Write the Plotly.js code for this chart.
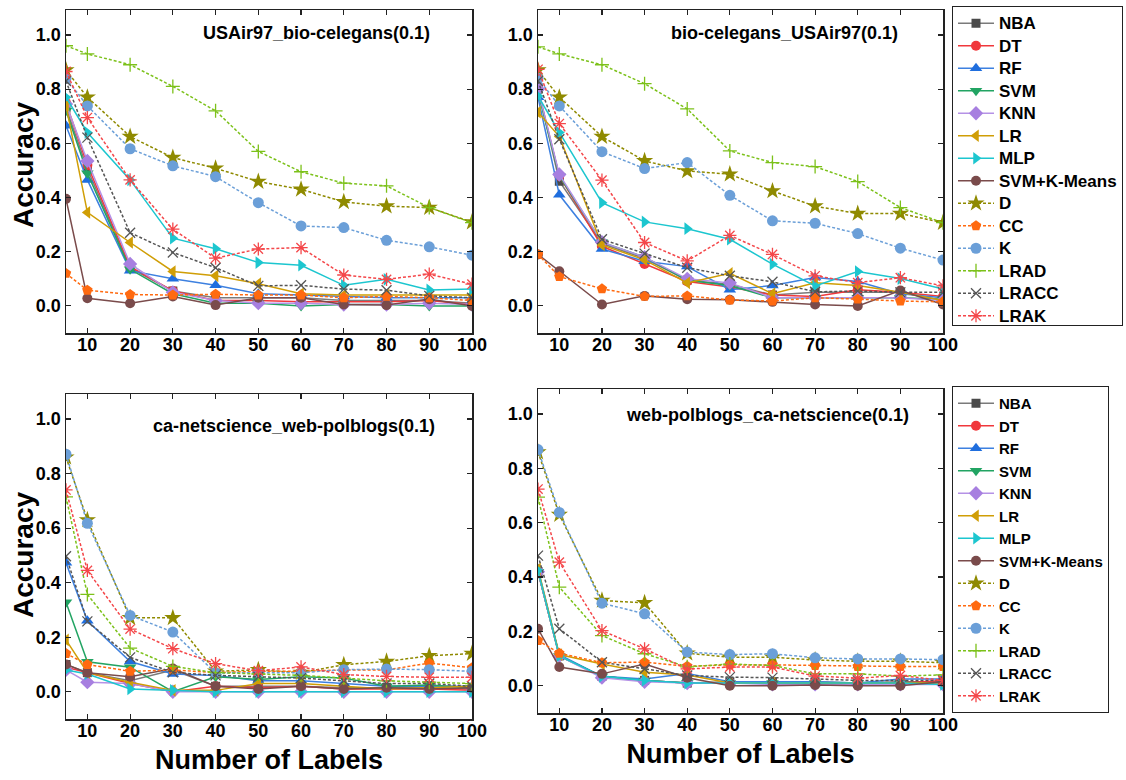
<!DOCTYPE html>
<html>
<head>
<meta charset="utf-8">
<script src="https://cdn.plot.ly/plotly-3.0.1.min.js"></script>
<style>html,body{margin:0;padding:0;background:#fff;}#chart{width:1126px;height:780px;}</style>
</head>
<body>
<div id="chart"></div>
<script>
// ---------- data ----------
const labels = [5, 10, 20, 30, 40, 50, 60, 70, 80, 90, 100];
const methods = ['NBA','DT','RF','SVM','KNN','LR','MLP','SVM+K-Means','D','CC','K','LRAD','LRACC','LRAK'];
const xTicks = [10, 20, 30, 40, 50, 60, 70, 80, 90, 100];
const yTicks = [0.0, 0.2, 0.4, 0.6, 0.8, 1.0];
const panelTitles = ['USAir97_bio-celegans(0.1)', 'bio-celegans_USAir97(0.1)', 'ca-netscience_web-polblogs(0.1)', 'web-polblogs_ca-netscience(0.1)'];
const xTitle = 'Number of Labels';
const yTitle = 'Accuracy';

// Panel A: USAir97_bio-celegans(0.1)
const a_NBA   = [0.73, 0.505, 0.14, 0.055, 0.03, 0.03, 0.03, 0.02, 0.02, 0.02, 0.01];
const a_DT    = [0.75, 0.52, 0.145, 0.055, 0.02, 0.02, 0.015, 0.015, 0.015, 0.02, 0.005];
const a_RF    = [0.665, 0.465, 0.13, 0.10, 0.076, 0.045, 0.04, 0.035, 0.03, 0.03, 0.03];
const a_SVM   = [0.72, 0.49, 0.135, 0.045, 0.01, 0.01, 0.0, 0.005, 0.005, 0.0, 0.0];
const a_KNN   = [0.745, 0.535, 0.155, 0.05, 0.02, 0.01, 0.01, 0.005, 0.005, 0.01, 0.005];
const a_LR    = [0.74, 0.345, 0.234, 0.127, 0.111, 0.082, 0.045, 0.04, 0.04, 0.04, 0.04];
const a_MLP   = [0.77, 0.64, 0.465, 0.25, 0.211, 0.16, 0.15, 0.076, 0.098, 0.059, 0.062];
const a_SVMKM = [0.395, 0.028, 0.01, 0.035, 0.003, 0.03, 0.03, 0.005, 0.003, 0.025, 0.0];
const a_D     = [0.87, 0.77, 0.625, 0.547, 0.508, 0.459, 0.43, 0.384, 0.368, 0.363, 0.309];
const a_CC    = [0.12, 0.058, 0.042, 0.04, 0.043, 0.04, 0.04, 0.03, 0.035, 0.03, 0.02];
const a_K     = [0.84, 0.738, 0.58, 0.517, 0.477, 0.381, 0.295, 0.289, 0.242, 0.218, 0.187];
const a_LRAD  = [0.96, 0.93, 0.89, 0.81, 0.72, 0.57, 0.495, 0.453, 0.443, 0.363, 0.307];
const a_LRACC = [0.83, 0.621, 0.27, 0.197, 0.141, 0.074, 0.076, 0.062, 0.058, 0.037, 0.03];
const a_LRAK  = [0.865, 0.695, 0.465, 0.283, 0.176, 0.21, 0.215, 0.114, 0.098, 0.117, 0.08];

// Panel B: bio-celegans_USAir97(0.1)
const b_NBA   = [0.80, 0.46, 0.23, 0.175, 0.095, 0.08, 0.04, 0.05, 0.05, 0.05, 0.02];
const b_DT    = [0.80, 0.48, 0.22, 0.155, 0.09, 0.07, 0.04, 0.035, 0.06, 0.05, 0.035];
const b_RF    = [0.77, 0.41, 0.21, 0.165, 0.145, 0.06, 0.075, 0.105, 0.09, 0.045, 0.03];
const b_SVM   = [0.79, 0.48, 0.235, 0.18, 0.095, 0.075, 0.03, 0.03, 0.03, 0.03, 0.025];
const b_KNN   = [0.80, 0.485, 0.235, 0.18, 0.10, 0.085, 0.03, 0.03, 0.03, 0.03, 0.02];
const b_LR    = [0.715, 0.625, 0.225, 0.17, 0.085, 0.12, 0.045, 0.085, 0.075, 0.05, 0.02];
const b_MLP   = [0.775, 0.64, 0.381, 0.31, 0.285, 0.246, 0.154, 0.074, 0.127, 0.101, 0.062];
const b_SVMKM = [0.19, 0.128, 0.005, 0.037, 0.025, 0.023, 0.015, 0.005, 0.0, 0.057, 0.005];
const b_D     = [0.87, 0.77, 0.625, 0.535, 0.498, 0.486, 0.424, 0.368, 0.341, 0.341, 0.307];
const b_CC    = [0.19, 0.108, 0.063, 0.035, 0.037, 0.022, 0.018, 0.03, 0.025, 0.018, 0.015];
const b_K     = [0.84, 0.738, 0.569, 0.507, 0.529, 0.408, 0.314, 0.305, 0.267, 0.213, 0.169];
const b_LRAD  = [0.956, 0.93, 0.89, 0.82, 0.727, 0.572, 0.529, 0.514, 0.459, 0.363, 0.307];
const b_LRACC = [0.83, 0.615, 0.246, 0.193, 0.141, 0.111, 0.089, 0.052, 0.055, 0.05, 0.05];
const b_LRAK  = [0.873, 0.673, 0.464, 0.234, 0.166, 0.26, 0.19, 0.111, 0.086, 0.104, 0.074];

// Panel C: ca-netscience_web-polblogs(0.1)
const c_NBA   = [0.10, 0.07, 0.04, 0.08, 0.02, 0.02, 0.02, 0.015, 0.015, 0.015, 0.01];
const c_DT    = [0.09, 0.07, 0.03, 0.0, 0.02, 0.015, 0.02, 0.01, 0.01, 0.01, 0.005];
const c_RF    = [0.473, 0.26, 0.111, 0.065, 0.06, 0.04, 0.04, 0.03, 0.02, 0.02, 0.02];
const c_SVM   = [0.328, 0.11, 0.09, 0.0, 0.055, 0.045, 0.055, 0.05, 0.02, 0.025, 0.015];
const c_KNN   = [0.08, 0.035, 0.03, 0.0, 0.0, 0.0, 0.0, 0.0, 0.0, 0.0, 0.0];
const c_LR    = [0.19, 0.07, 0.035, 0.005, 0.005, 0.03, 0.03, 0.02, 0.01, 0.015, 0.02];
const c_MLP   = [0.08, 0.065, 0.01, 0.005, 0.0, 0.0, 0.0, 0.0, 0.0, 0.0, 0.0];
const c_SVMKM = [0.10, 0.07, 0.055, 0.085, 0.02, 0.01, 0.02, 0.01, 0.015, 0.01, 0.015];
const c_D     = [0.86, 0.63, 0.271, 0.271, 0.075, 0.08, 0.07, 0.099, 0.111, 0.132, 0.14];
const c_CC    = [0.14, 0.10, 0.075, 0.08, 0.07, 0.075, 0.075, 0.08, 0.08, 0.105, 0.088];
const c_K     = [0.871, 0.618, 0.28, 0.219, 0.069, 0.07, 0.07, 0.081, 0.083, 0.081, 0.075];
const c_LRAD  = [0.715, 0.357, 0.16, 0.093, 0.07, 0.065, 0.06, 0.05, 0.04, 0.035, 0.03];
const c_LRACC = [0.497, 0.258, 0.126, 0.071, 0.06, 0.055, 0.05, 0.04, 0.03, 0.03, 0.02];
const c_LRAK  = [0.74, 0.445, 0.23, 0.158, 0.103, 0.077, 0.091, 0.063, 0.056, 0.053, 0.053];

// Panel D: web-polblogs_ca-netscience(0.1)
const d_NBA   = [0.42, 0.11, 0.035, 0.02, 0.01, 0.015, 0.015, 0.015, 0.01, 0.015, 0.015];
const d_DT    = [0.42, 0.11, 0.035, 0.02, 0.01, 0.01, 0.01, 0.01, 0.01, 0.01, 0.02];
const d_RF    = [0.43, 0.115, 0.035, 0.025, 0.045, 0.015, 0.015, 0.015, 0.01, 0.025, 0.025];
const d_SVM   = [0.42, 0.11, 0.035, 0.02, 0.01, 0.01, 0.01, 0.01, 0.01, 0.01, 0.01];
const d_KNN   = [0.42, 0.11, 0.03, 0.015, 0.01, 0.01, 0.005, 0.005, 0.005, 0.005, 0.005];
const d_LR    = [0.43, 0.115, 0.08, 0.05, 0.04, 0.01, 0.01, 0.01, 0.01, 0.01, 0.01];
const d_MLP   = [0.424, 0.11, 0.035, 0.02, 0.01, 0.01, 0.01, 0.01, 0.01, 0.01, 0.005];
const d_SVMKM = [0.21, 0.069, 0.044, 0.08, 0.03, 0.0, 0.0, 0.003, 0.0, 0.0, 0.015];
const d_D     = [0.86, 0.63, 0.314, 0.305, 0.12, 0.105, 0.105, 0.095, 0.09, 0.09, 0.085];
const d_CC    = [0.167, 0.12, 0.085, 0.087, 0.072, 0.077, 0.077, 0.075, 0.071, 0.071, 0.071];
const d_K     = [0.869, 0.638, 0.304, 0.265, 0.124, 0.115, 0.118, 0.103, 0.099, 0.099, 0.096];
const d_LRAD  = [0.694, 0.363, 0.185, 0.118, 0.07, 0.08, 0.075, 0.044, 0.044, 0.036, 0.04];
const d_LRACC = [0.479, 0.21, 0.087, 0.062, 0.038, 0.032, 0.03, 0.025, 0.02, 0.02, 0.02];
const d_LRAK  = [0.724, 0.455, 0.203, 0.136, 0.062, 0.069, 0.069, 0.036, 0.028, 0.038, 0.02];

const panelData = [
  [a_NBA, a_DT, a_RF, a_SVM, a_KNN, a_LR, a_MLP, a_SVMKM, a_D, a_CC, a_K, a_LRAD, a_LRACC, a_LRAK],
  [b_NBA, b_DT, b_RF, b_SVM, b_KNN, b_LR, b_MLP, b_SVMKM, b_D, b_CC, b_K, b_LRAD, b_LRACC, b_LRAK],
  [c_NBA, c_DT, c_RF, c_SVM, c_KNN, c_LR, c_MLP, c_SVMKM, c_D, c_CC, c_K, c_LRAD, c_LRACC, c_LRAK],
  [d_NBA, d_DT, d_RF, d_SVM, d_KNN, d_LR, d_MLP, d_SVMKM, d_D, d_CC, d_K, d_LRAD, d_LRACC, d_LRAK]
];

// ---------- styles ----------
const styles = [
  {line:'#7a7a7a', mk:'#4a4a4a', sym:'square', dash:'solid', size:9},
  {line:'#f0383c', mk:'#f0383c', sym:'circle', dash:'solid', size:10},
  {line:'#3d80e0', mk:'#1f6ede', sym:'triangle-up', dash:'solid', size:11},
  {line:'#22a463', mk:'#22a463', sym:'triangle-down', dash:'solid', size:11},
  {line:'#b592e6', mk:'#a77fe0', sym:'diamond', dash:'solid', size:11},
  {line:'#d09e06', mk:'#d09e06', sym:'triangle-left', dash:'solid', size:11},
  {line:'#1cc6cf', mk:'#1cc6cf', sym:'triangle-right', dash:'solid', size:11},
  {line:'#7a4b4b', mk:'#7a4b4b', sym:'circle', dash:'solid', size:10},
  {line:'#8f8a00', mk:'#8f8a00', sym:'star', dash:'3px,2px', size:13},
  {line:'#ff6a10', mk:'#ff6a10', sym:'pentagon', dash:'3px,2px', size:11},
  {line:'#6b9fd8', mk:'#6b9fd8', sym:'circle', dash:'3px,2px', size:11},
  {line:'#7cc11a', mk:'#7cc11a', sym:'cross-thin-open', dash:'3px,2px', size:10},
  {line:'#555555', mk:'#555555', sym:'x-thin-open', dash:'3px,2px', size:10},
  {line:'#f4474a', mk:'#f4474a', sym:'asterisk-open', dash:'3px,2px', size:11}
];

const axisIds = [['x','y'],['x2','y2'],['x3','y3'],['x4','y4']];
const traces = [];
panelData.forEach((series, p) => {
  series.forEach((vals, i) => {
    const s = styles[i];
    const isOpen = s.sym.indexOf('open') >= 0;
    traces.push({
      type:'scatter', mode:'lines+markers',
      x: labels, y: vals, name: methods[i],
      xaxis: axisIds[p][0], yaxis: axisIds[p][1],
      line:{color:s.line, width:1.5, dash:s.dash},
      marker:{symbol:s.sym, size:s.size, color:s.mk,
              line: isOpen ? {color:s.mk, width:1.3} : {width:0}},
      showlegend: (p === 1 || p === 3),
      legend: p === 3 ? 'legend2' : 'legend'
    });
  });
});

const FONT = 'Liberation Sans, Arial, sans-serif';
function xa(domain, showTitle, anchor){
  return {
    domain: domain, range:[5,100], tickvals: xTicks, ticktext: xTicks.map(String), anchor: anchor,
    showline:true, linecolor:'#222', linewidth:1.5, mirror:'ticks',
    ticks:'inside', ticklen:5, tickwidth:1.2, tickcolor:'#222', ticklabelstandoff:-5,
    showgrid:false, zeroline:false,
    tickfont:{family:FONT, size:18, color:'#000', weight:'bold'},
    title: showTitle ? {text:xTitle, font:{family:FONT, size:27, color:'#000', weight:'bold'}, standoff:10} : {text:''}
  };
}
function ya(domain, anchor){
  return {
    domain: domain, range:[-0.1, 1.092], tickvals: yTicks, tickformat:'.1f', anchor: anchor,
    showline:true, linecolor:'#222', linewidth:1.5, mirror:'ticks',
    ticks:'inside', ticklen:5, tickwidth:1.2, tickcolor:'#222',
    showgrid:false, zeroline:false,
    tickfont:{family:FONT, size:18, color:'#000', weight:'bold'},
    title:{text:''}
  };
}

const W = 1126, H = 780;
const dx1 = [66/W, 472/W], dx2 = [538/W, 943/W];
const dy1 = [1-333/H, 1-10/H], dy3 = [1-719/H, 1-394/H], dy4 = [1-713/H, 1-389/H];

const legendStyle = {
  x: 952/W, xanchor:'left', yanchor:'top',
  bgcolor:'#fff', bordercolor:'#222', borderwidth:1,
  font:{family:FONT, size:15, color:'#000', weight:'bold'},
  tracegroupgap:0, itemwidth:36
};

const annPos = [[316.5,33],[785,33],[294,426],[767,415]];
const annotations = panelTitles.map((t, i) => ({
  text: t, xref:'paper', yref:'paper', x: annPos[i][0]/W, y: 1-annPos[i][1]/H,
  xanchor:'center', yanchor:'middle', showarrow:false,
  font:{family:FONT, size:18, color:'#000', weight:'bold'}
}));
[[23,165],[23,555]].forEach(pos => annotations.push({
  text: yTitle, xref:'paper', yref:'paper', x: pos[0]/W, y: 1-pos[1]/H,
  xanchor:'center', yanchor:'middle', showarrow:false, textangle:-90,
  font:{family:FONT, size:28, color:'#000', weight:'bold'}
}));

const layout = {
  width:W, height:H, margin:{l:0,r:0,t:0,b:0},
  paper_bgcolor:'#fff', plot_bgcolor:'#fff',
  showlegend:true,
  xaxis: xa(dx1,false,'y'),  yaxis: ya(dy1,'x'),
  xaxis2: xa(dx2,false,'y2'), yaxis2: ya(dy1,'x2'),
  xaxis3: xa(dx1,true,'y3'),  yaxis3: ya(dy3,'x3'),
  xaxis4: xa(dx2,true,'y4'),  yaxis4: ya(dy4,'x4'),
  legend: Object.assign({}, legendStyle, {y: 1-6/H}),
  legend2: Object.assign({}, legendStyle, {y: 1-386/H}),
  annotations: annotations
};

Plotly.newPlot('chart', traces, layout, {displayModeBar:false, staticPlot:true}).then(gd => {
  // enlarge legend text to match the reference while keeping Plotly's row spacing
  gd.querySelectorAll('.legend .legendtext').forEach(t => { t.style.fontSize = '17px'; });
  gd.querySelectorAll('.legend rect.bg').forEach(r => {
    r.setAttribute('width', 170);
    const h = parseFloat(r.getAttribute('height'));
    if (h > 50) r.setAttribute('height', h - 7);
  });
  gd.querySelectorAll('defs clipPath rect').forEach(r => {
    const p = r.parentNode && r.parentNode.id ? r.parentNode.id : '';
    if (p.indexOf('legend') >= 0) r.setAttribute('width', 170);
  });
});
</script>
</body>
</html>
